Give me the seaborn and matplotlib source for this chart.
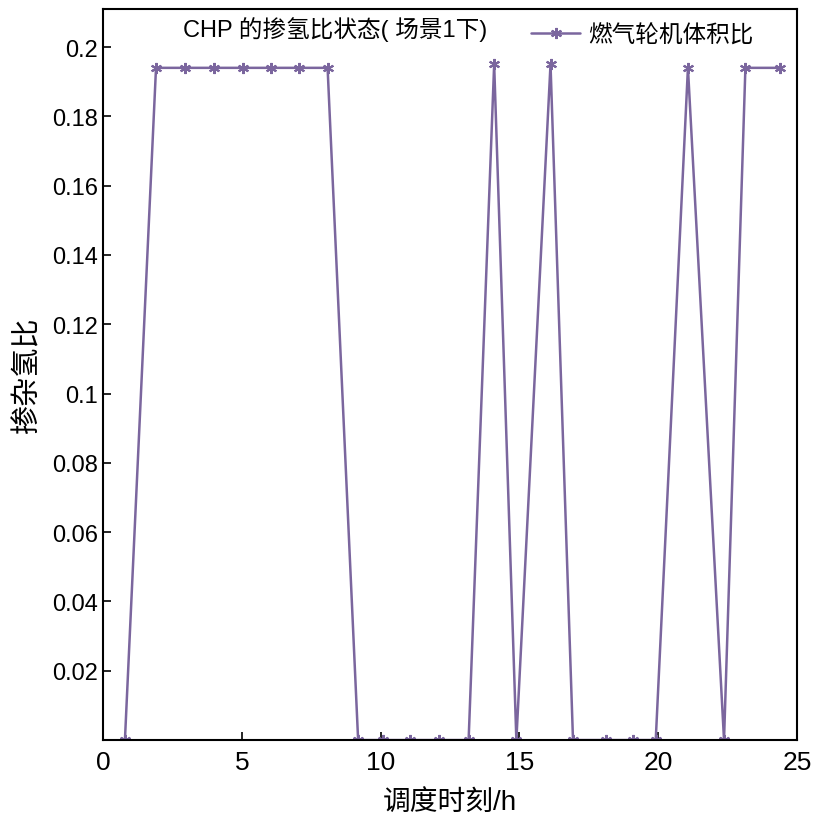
import matplotlib
matplotlib.use("Agg")
import matplotlib.pyplot as plt
import seaborn as sns
import pandas as pd

# 调度时刻 (h) 与 燃气轮机体积比
hours = [0.79, 1.91, 2.96, 4.01, 5.03, 6.05, 7.07, 8.09, 9.19, 10.09, 11.05, 12.11,
         13.17, 14.09, 14.89, 16.12, 16.93, 18.11, 19.09, 19.91, 21.07, 22.37, 23.14, 24.37]
ratio = [0.0, 0.194, 0.194, 0.194, 0.194, 0.194, 0.194, 0.194, 0.0, 0.0, 0.0, 0.0,
         0.0, 0.195, 0.0, 0.195, 0.0, 0.0, 0.0, 0.0, 0.194, 0.0, 0.194, 0.194]
yticks = [0.02, 0.04, 0.06, 0.08, 0.1, 0.12, 0.14, 0.16, 0.18, 0.2]
ytick_labels = ["0.02", "0.04", "0.06", "0.08", "0.1", "0.12", "0.14", "0.16", "0.18", "0.2"]
xticks = [0, 5, 10, 15, 20, 25]

df = pd.DataFrame({"hour": hours, "ratio": ratio})

sns.set_style("ticks")
plt.rcParams["font.family"] = ["Liberation Sans", "Noto Sans CJK SC", "DejaVu Sans"]
plt.rcParams["text.color"] = "black"
plt.rcParams["axes.labelcolor"] = "black"
plt.rcParams["xtick.color"] = "black"
plt.rcParams["ytick.color"] = "black"

fig = plt.figure(figsize=(8.2, 8.28), dpi=100)
ax = fig.add_axes([0.1256, 0.105, 0.8464, 0.883])

color = "#7b669e"
sns.lineplot(data=df, x="hour", y="ratio", ax=ax, color=color, linewidth=1.8,
             marker=(6, 2, 0), markersize=8, markeredgewidth=1.5,
             markeredgecolor=color, label="燃气轮机体积比")

ax.set_xlim(0, 25)
ax.set_ylim(0, 0.211)
ax.set_xticks(xticks)
ax.set_yticks(yticks)
ax.set_yticklabels(ytick_labels)
ax.tick_params(direction="in", length=6, width=1.2, labelsize=17)
ax.tick_params(axis="x", labelsize=19, pad=7)
for s in ax.spines.values():
    s.set_linewidth(1.5)
    s.set_color("black")

ax.set_xlabel("调度时刻/h", fontsize=20, labelpad=11)
ax.set_ylabel("掺杂氢比", fontsize=21, labelpad=8)

ax.text(0.115, 0.973, "CHP 的掺氢比状态( 场景1下)", transform=ax.transAxes,
        fontsize=17, va="center", ha="left")
ax.legend(loc="upper right", bbox_to_anchor=(0.96, 1.0), frameon=False,
          fontsize=17, handlelength=2.1, handletextpad=0.35, borderaxespad=0.25)

fig.savefig("out.png", dpi=100)
